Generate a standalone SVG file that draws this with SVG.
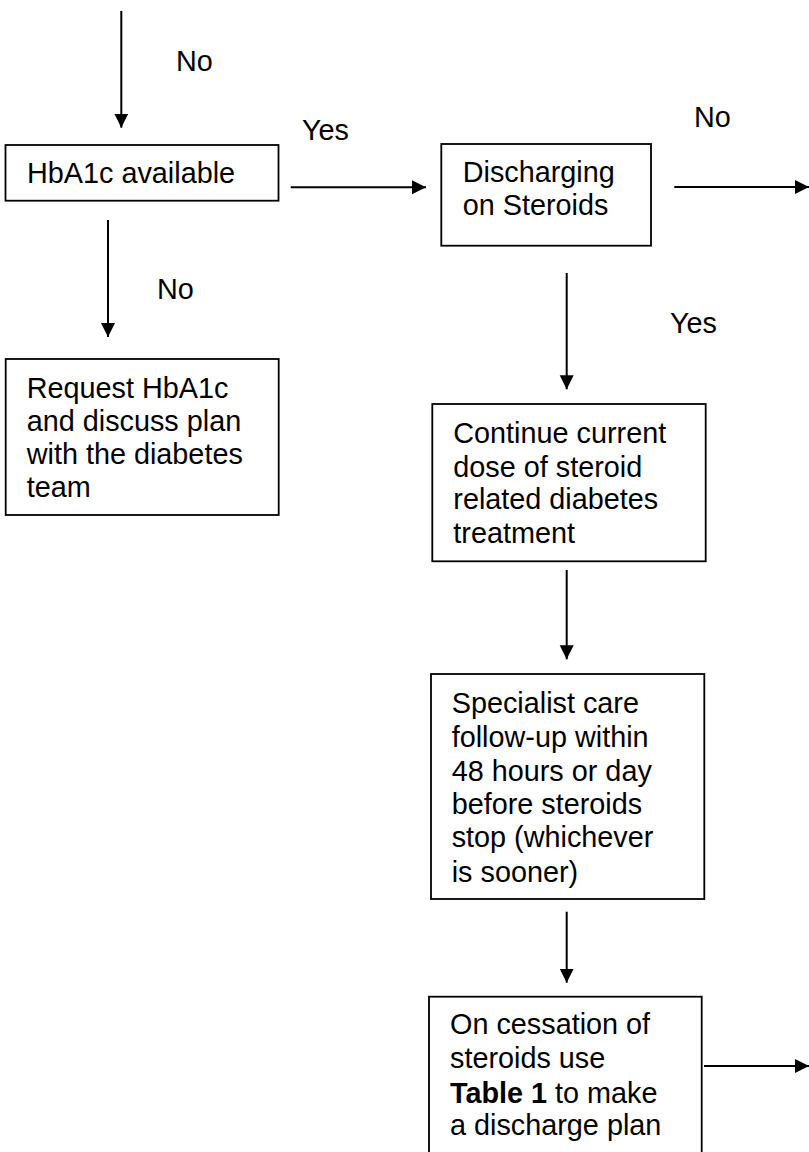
<svg xmlns="http://www.w3.org/2000/svg" width="809" height="1152" viewBox="0 0 809 1152">
<style>
text { font-family: "Liberation Sans", Arial, sans-serif; font-size: 28.8px; fill: #000; }
.box { fill: #fff; stroke: #000; stroke-width: 1.8; }
.conn { stroke: #000; stroke-width: 2; fill: none; marker-end: url(#ah); }
</style>
<defs>
<marker id="ah" markerUnits="userSpaceOnUse" markerWidth="15" markerHeight="15" refX="14" refY="7" orient="auto">
<path d="M0,0 L14,7 L0,14 z" fill="#000"/>
</marker>
</defs>
<rect width="809" height="1152" fill="#fff"/>
<g id="connectors">
<line class="conn" x1="121.3" y1="11" x2="121.3" y2="127.7"/>
<line class="conn" x1="290.7" y1="187.3" x2="426" y2="187.3"/>
<line class="conn" x1="108" y1="220" x2="108" y2="337"/>
<line class="conn" x1="674.3" y1="187" x2="809" y2="187"/>
<line class="conn" x1="566.7" y1="273" x2="566.7" y2="389.3"/>
<line class="conn" x1="566.7" y1="570" x2="566.7" y2="659.3"/>
<line class="conn" x1="566.7" y1="911.7" x2="566.7" y2="982.7"/>
<line class="conn" x1="704" y1="1066" x2="809" y2="1066"/>
<text x="176" y="71">No</text>
<text x="302" y="140">Yes</text>
<text x="157" y="299">No</text>
<text x="694" y="127">No</text>
<text x="670" y="333">Yes</text>
</g>
<g id="hba1c">
<rect class="box" x="5.5" y="145" width="273" height="55.7"/>
<text x="27" y="183">HbA1c available</text>
</g>
<g id="request">
<rect class="box" x="5.7" y="359" width="273" height="156"/>
<text x="26.7" y="397.7">Request HbA1c</text>
<text x="26.7" y="431">and discuss plan</text>
<text x="26.7" y="464">with the diabetes</text>
<text x="26.7" y="497.3">team</text>
</g>
<g id="discharging">
<rect class="box" x="441.3" y="144" width="209.7" height="101.7"/>
<text x="462.7" y="181.7">Discharging</text>
<text x="462.7" y="215">on Steroids</text>
</g>
<g id="continue">
<rect class="box" x="432.3" y="404" width="273.4" height="157.3"/>
<text x="453.3" y="442.7">Continue current</text>
<text x="453.3" y="476.7">dose of steroid</text>
<text x="453.3" y="509.3">related diabetes</text>
<text x="453.3" y="543.3">treatment</text>
</g>
<g id="specialist">
<rect class="box" x="431" y="674" width="273.3" height="225"/>
<text x="451.7" y="712.5">Specialist care</text>
<text x="451.7" y="746.5">follow-up within</text>
<text x="451.7" y="780.5">48 hours or day</text>
<text x="451.7" y="814">before steroids</text>
<text x="451.7" y="847">stop (whichever</text>
<text x="451.7" y="881.5">is sooner)</text>
</g>
<g id="cessation">
<rect class="box" x="429" y="996.7" width="272.7" height="170"/>
<text x="450" y="1034.3">On cessation of</text>
<text x="450" y="1068.3">steroids use</text>
<text x="450" y="1102.7"><tspan font-weight="bold">Table 1</tspan> to make</text>
<text x="450" y="1135">a discharge plan</text>
</g>
</svg>
